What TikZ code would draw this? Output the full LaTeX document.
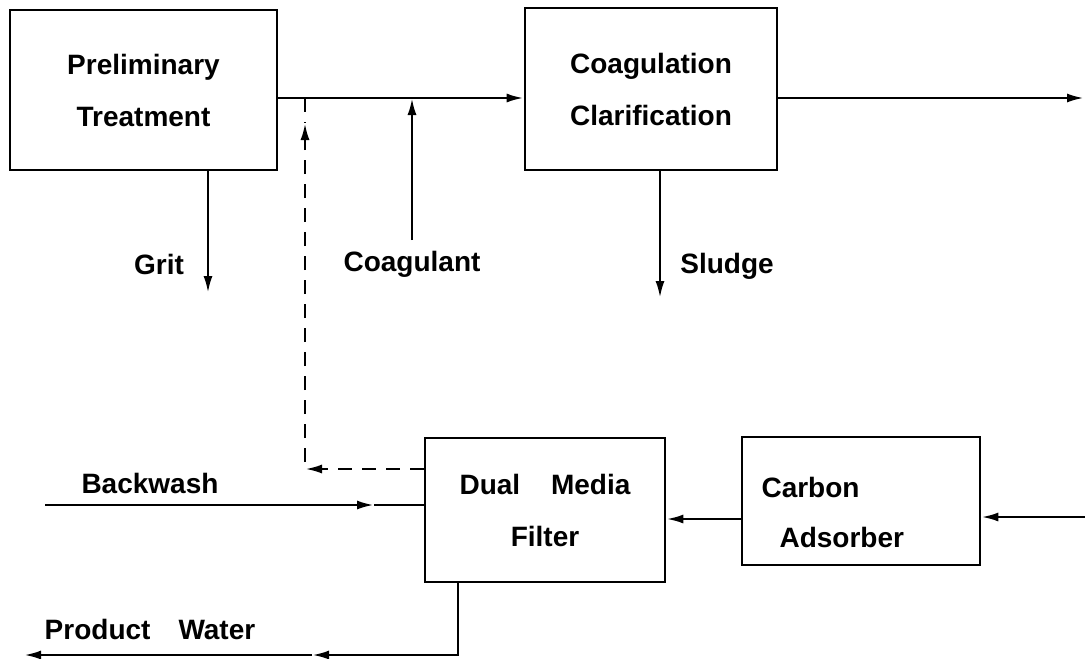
\documentclass[tikz,border=0pt]{standalone}
\usepackage{fontspec}
\setmainfont{Liberation Sans}
\usetikzlibrary{arrows.meta}
\begin{document}
\begin{tikzpicture}[x=1pt,y=-1pt,
  every node/.style={font=\bfseries\fontsize{28}{52}\selectfont},
  box/.style={draw,line width=2.6pt,inner sep=0pt,align=center},
  conn/.style={line width=2.6pt},
  tip/.style={-{Latex[length=17pt,width=9pt]}},
  arr/.style={conn,tip},
  dsh/.style={conn,dash pattern=on 14pt off 10pt}]
\useasboundingbox (0,0) rectangle (1085,659);
% boxes
\node[box,minimum width=267pt,minimum height=160pt] (pre) at (143.5,90) {Preliminary\\Treatment};
\node[box,minimum width=252pt,minimum height=162pt] (coag) at (651,89) {Coagulation\\Clarification};
\node[box,minimum width=240pt,minimum height=144pt] (dual) at (545,510) {Dual\hspace{1.1em}Media\\Filter};
\node[box,minimum width=238pt,minimum height=128pt] (carb) at (861,501) {};
\node[anchor=west] (carbT1) at (758,487) {Carbon};
\node[anchor=west] (carbT2) at (776,537) {Adsorber};
% labels
\node (grit) at (159,264) {Grit};
\node (coagl) at (412,264) {Coagulant};
\node (sludge) at (727,266) {Sludge};
\node (bw) at (150,483) {Backwash};
\node (pw) at (150,629) {Product\hspace{1em}Water};
% coordinates
\coordinate (yMain) at (0,98);
\coordinate (outR) at (1084,98);
\coordinate (gritEnd) at (208,293);
\coordinate (coagIn) at (412,240);
\coordinate (sludgeEnd) at (660,298);
\coordinate (dCorner) at (305,469);
\coordinate (dMid) at (305,123);
\coordinate (yCA) at (0,519);
\coordinate (inR) at (1085,517);
\coordinate (bwStart) at (45,505);
\coordinate (bwMid) at (374,505);
\coordinate (pwCorner) at (458,655);
\coordinate (pwMid) at (312,655);
\coordinate (pwEnd) at (24,655);
% connectors
\draw[arr] (pre.east |- yMain) -- (coag.west |- yMain);
\draw[arr] (coag.east |- yMain) -- (outR);
\draw[arr] (pre.south -| gritEnd) -- (gritEnd);
\draw[arr] (coagIn) -- (coagIn |- yMain);
\draw[arr] (coag.south -| sludgeEnd) -- (sludgeEnd);
\draw[dsh,tip] (dual.west |- dCorner) -- (dCorner);
\draw[dsh,tip] ([yshift=7pt]dCorner) -- (dMid);
\draw[dsh] (dMid |- yMain) -- (dMid);
\draw[arr] (carb.west |- yCA) -- (dual.east |- yCA);
\draw[arr] (inR) -- (carb.east |- inR);
\draw[arr] (bwStart) -- (bwMid);
\draw[conn] (bwMid) -- (dual.west |- bwMid);
\draw[arr] (dual.south -| pwCorner) -- (pwCorner) -- (pwMid);
\draw[arr] (pwMid) -- (pwEnd);
\end{tikzpicture}
\end{document}
